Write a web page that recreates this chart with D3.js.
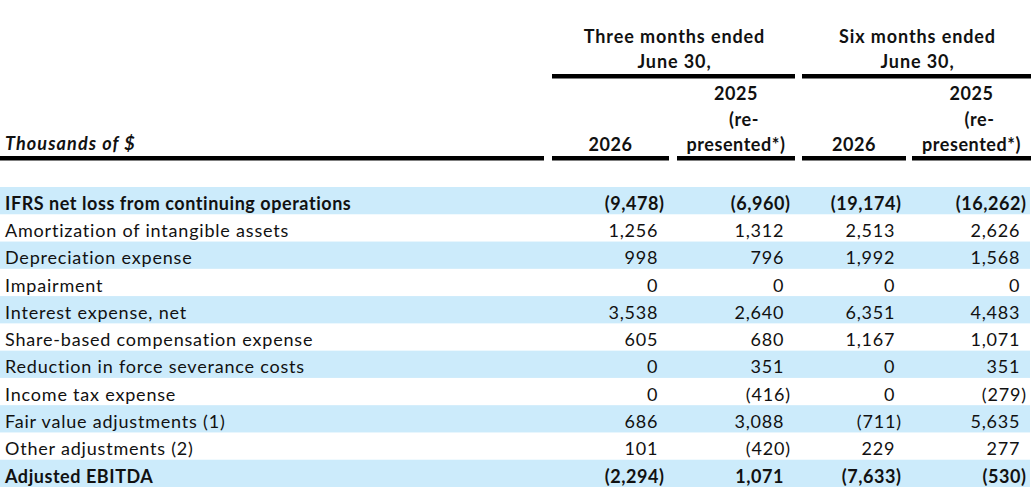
<!DOCTYPE html>
<html>
<head>
<meta charset="utf-8">
<script src="https://cdn.jsdelivr.net/npm/d3@7"></script>
<style>
  html, body { margin: 0; padding: 0; background: #fff; }
  svg { display: block; }
  text { font-family: Lato, "Open Sans", sans-serif; fill: #111; }
</style>
</head>
<body>
<svg id="chart" width="1035" height="493"></svg>
<script>
// ---- data ----
const rowLabels = [
  "IFRS net loss from continuing operations",
  "Amortization of intangible assets",
  "Depreciation expense",
  "Impairment",
  "Interest expense, net",
  "Share-based compensation expense",
  "Reduction in force severance costs",
  "Income tax expense",
  "Fair value adjustments (1)",
  "Other adjustments (2)",
  "Adjusted EBITDA"
];
const boldRows = ["IFRS net loss from continuing operations", "Adjusted EBITDA"];
const threeMonths2026 = [-9478, 1256, 998, 0, 3538, 605, 0, 0, 686, 101, -2294];
const threeMonths2025 = [-6960, 1312, 796, 0, 2640, 680, 351, -416, 3088, -420, 1071];
const sixMonths2026   = [-19174, 2513, 1992, 0, 6351, 1167, 0, 0, -711, 229, -7633];
const sixMonths2025   = [-16262, 2626, 1568, 0, 4483, 1071, 351, -279, 5635, 277, -530];
const columnKeys = ["q2026", "q2025", "h2026", "h2025"];
const columnHeaders = [["2026"], ["2025", "(re-", "presented*)"], ["2026"], ["2025", "(re-", "presented*)"]];
const groupHeaders = [["Three months ended", "June 30,"], ["Six months ended", "June 30,"]];
const unitLabel = "Thousands of $";

// ---- layout ----
const svg = d3.select("#chart");
const bandColor = "#CCEBFB";
const fontSize = 18;
const lsRegular = 0.8, lsBold = 0.55, lsHeader = 0.9, lsUnit = 1.1;

const y = d3.scaleBand().domain(rowLabels).range([187, 487]);
const colLeft = d3.scaleOrdinal().domain(columnKeys).range([552, 677, 802, 912]);
const colRight = d3.scaleOrdinal().domain(columnKeys).range([669, 795, 906, 1031]);
const series = [threeMonths2026, threeMonths2025, sixMonths2026, sixMonths2025];
const fmt = d3.format(",");
const parenW = 6.5;
const isBold = d => boldRows.includes(d);

// row bands
svg.append("g").selectAll("rect")
  .data(rowLabels.filter((d, i) => i % 2 === 0))
  .join("rect")
  .attr("x", 0).attr("width", 1030)
  .attr("y", d => y(d)).attr("height", y.bandwidth())
  .attr("fill", bandColor);

// row labels
svg.append("g").selectAll("text")
  .data(rowLabels)
  .join("text")
  .attr("x", 5)
  .attr("y", d => y(d) + y.bandwidth() - 4.5)
  .attr("font-size", fontSize)
  .attr("font-weight", d => isBold(d) ? 700 : 400)
  .attr("letter-spacing", d => isBold(d) ? lsBold : lsRegular)
  .text(d => d);

// values
columnKeys.forEach((k, ci) => {
  svg.append("g").selectAll("text")
    .data(series[ci].map((v, i) => ({ v, label: rowLabels[i] })))
    .join("text")
    .attr("text-anchor", "end")
    .attr("x", d => colRight(k) - 5 + (isBold(d.label) ? lsBold : lsRegular) - (d.v < 0 ? 0 : parenW))
    .attr("y", d => y(d.label) + y.bandwidth() - 4.5)
    .attr("font-size", fontSize)
    .attr("font-weight", d => isBold(d.label) ? 700 : 400)
    .attr("letter-spacing", d => isBold(d.label) ? lsBold : lsRegular)
    .text(d => d.v < 0 ? "(" + fmt(-d.v) + ")" : fmt(d.v));
});

// group headers
const groups = [[columnKeys[0], columnKeys[1]], [columnKeys[2], columnKeys[3]]];
groups.forEach((g, gi) => {
  const x0 = colLeft(g[0]), x1 = colRight(g[1]);
  const cx = (x0 + x1) / 2 + 1;
  svg.append("g").selectAll("text")
    .data(groupHeaders[gi])
    .join("text")
    .attr("x", cx)
    .attr("y", (d, i) => 43 + i * 25)
    .attr("text-anchor", "middle")
    .attr("font-size", fontSize)
    .attr("font-weight", 700)
    .attr("letter-spacing", lsHeader)
    .text(d => d);
  svg.append("line")
    .attr("x1", x0).attr("x2", x1)
    .attr("y1", 76.3).attr("y2", 76.3)
    .attr("stroke", "#000").attr("stroke-width", 4.5);
});

// column headers
columnKeys.forEach((k, ci) => {
  const cx = (colLeft(k) + colRight(k)) / 2;
  const lines = columnHeaders[ci];
  svg.append("g").selectAll("text")
    .data(lines)
    .join("text")
    .attr("x", d => cx + (d === "(re-" ? 8 : 0))
    .attr("y", (d, i) => 151 - (lines.length - 1 - i) * 25.5)
    .attr("text-anchor", "middle")
    .attr("font-size", fontSize)
    .attr("font-weight", 700)
    .attr("letter-spacing", lsBold)
    .text(d => d);
  svg.append("line")
    .attr("x1", colLeft(k)).attr("x2", colRight(k))
    .attr("y1", 158.3).attr("y2", 158.3)
    .attr("stroke", "#000").attr("stroke-width", 4.5);
});

// unit label + underline
svg.append("text")
  .attr("x", 5).attr("y", 150)
  .attr("font-size", fontSize)
  .attr("font-weight", 700)
  .attr("font-style", "italic")
  .attr("letter-spacing", lsUnit)
  .text(unitLabel);
svg.append("line")
  .attr("x1", 0).attr("x2", 544)
  .attr("y1", 158.3).attr("y2", 158.3)
  .attr("stroke", "#000").attr("stroke-width", 4.5);
</script>
</body>
</html>
